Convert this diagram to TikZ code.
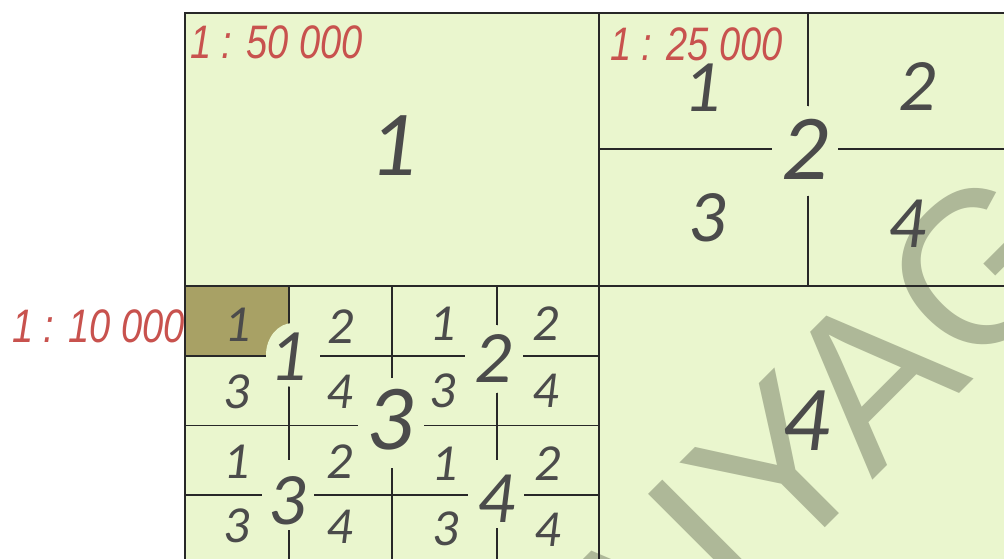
\documentclass[tikz,border=0pt]{standalone}
\usepackage{fontspec}
\setmainfont{Carlito}
\newfontfamily\lblfont{Liberation Sans}
\newfontfamily\wmfont{Liberation Sans}
\definecolor{bg}{RGB}{234,246,206}
\definecolor{olivecell}{RGB}{168,161,101}
\definecolor{wmark}{RGB}{174,184,152}
\definecolor{lblred}{RGB}{200,82,78}
\definecolor{ink}{RGB}{75,75,75}
\definecolor{gridc}{RGB}{40,40,40}
\tikzset{
  bignum/.style={font=\itshape\fontsize{93}{93}\selectfont, text=ink, inner sep=0pt},
  midnum/.style={font=\itshape\fontsize{74}{74}\selectfont, text=ink, inner sep=0pt},
  smallnum/.style={font=\itshape\fontsize{52}{52}\selectfont, text=ink, inner sep=0pt},
  scalelbl/.style={font=\lblfont\itshape\fontsize{47}{47}\selectfont, text=lblred, inner sep=0pt, anchor=base west},
  gridline/.style={draw=gridc, line width=1.8pt},
  frameline/.style={draw=gridc, line width=2.6pt},
}
\begin{document}
\begin{tikzpicture}[x=1pt,y=-1pt]
\useasboundingbox (0,0) rectangle (1004,558);
\clip (0,0) rectangle (1004,558);
% background
\fill[bg] (185,13) rectangle (1004,560);
\fill[olivecell] (185,286) rectangle (289,356);
% watermark
\node[font=\wmfont\fontsize{216}{216}\selectfont, text=wmark, rotate=45, anchor=base west, inner sep=0pt] (wm) at (637,716) {AIYAG};
% grid lines
\draw[gridline] (599,13) -- (599,560);
\draw[gridline] (185,286) -- (1004,286);
\draw[gridline] (808,13) -- (808,286);
\draw[gridline] (599,149) -- (1004,149);
\draw[gridline] (392,286) -- (392,560);
\draw[gridline] (185,425.5) -- (599,425.5);
\draw[gridline] (289,286) -- (289,560);
\draw[gridline] (497,286) -- (497,560);
\draw[gridline] (185,356) -- (599,356);
\draw[gridline] (185,495) -- (599,495);
\draw[frameline] (185,560) -- (185,13) -- (1004,13);
% gaps around numbers
\fill[bg] (805,151) ellipse [x radius=33pt, y radius=45pt];
\fill[bg] (391,423) ellipse [x radius=33pt, y radius=45pt];
\fill[bg] (293,355) ellipse [x radius=27pt, y radius=32pt];
\fill[bg] (494,359) ellipse [x radius=29pt, y radius=34pt];
\fill[bg] (288,495) ellipse [x radius=26pt, y radius=35pt];
\fill[bg] (496,494) ellipse [x radius=28pt, y radius=34pt];
% 1:50000
\node[bignum] (a) at (393,146) {1};
% 1:25000
\node[bignum] (b) at (805,149) {2};
\node[midnum] (b1) at (702,88) {1};
\node[midnum] (b2) at (917,87) {2};
\node[midnum] (b3) at (707,218) {3};
\node[midnum] (b4) at (907,224) {4};
% 1:10000 quadrants
\node[bignum] (c) at (390,420) {3};
\node[bignum] (d) at (806,421) {4};
\node[midnum] (c1) at (288,357) {1};
\node[midnum] (c2) at (493,358) {2};
\node[midnum] (c3) at (287,501) {3};
\node[midnum] (c4) at (496,499) {4};
\node[smallnum] (c11) at (238,325) {1};
\node[smallnum] (c12) at (341,327) {2};
\node[smallnum] (c13) at (237,392) {3};
\node[smallnum] (c14) at (340,392) {4};
\node[smallnum] (c21) at (443,324) {1};
\node[smallnum] (c22) at (546,324) {2};
\node[smallnum] (c23) at (443,391) {3};
\node[smallnum] (c24) at (546,391) {4};
\node[smallnum] (c31) at (237,462) {1};
\node[smallnum] (c32) at (340,462) {2};
\node[smallnum] (c33) at (237,526) {3};
\node[smallnum] (c34) at (340,527) {4};
\node[smallnum] (c41) at (445,464) {1};
\node[smallnum] (c42) at (548,464) {2};
\node[smallnum] (c43) at (446,529) {3};
\node[smallnum] (c44) at (548,530) {4};
% scale labels
\node[scalelbl] (s50) at (190,58) {\scalebox{0.81}[1]{1 : 50 000}};
\node[scalelbl] (s25) at (610,60) {\scalebox{0.81}[1]{1 : 25 000}};
\node[scalelbl] (s10) at (12,342) {\scalebox{0.81}[1]{1 : 10 000}};
\end{tikzpicture}
\end{document}
